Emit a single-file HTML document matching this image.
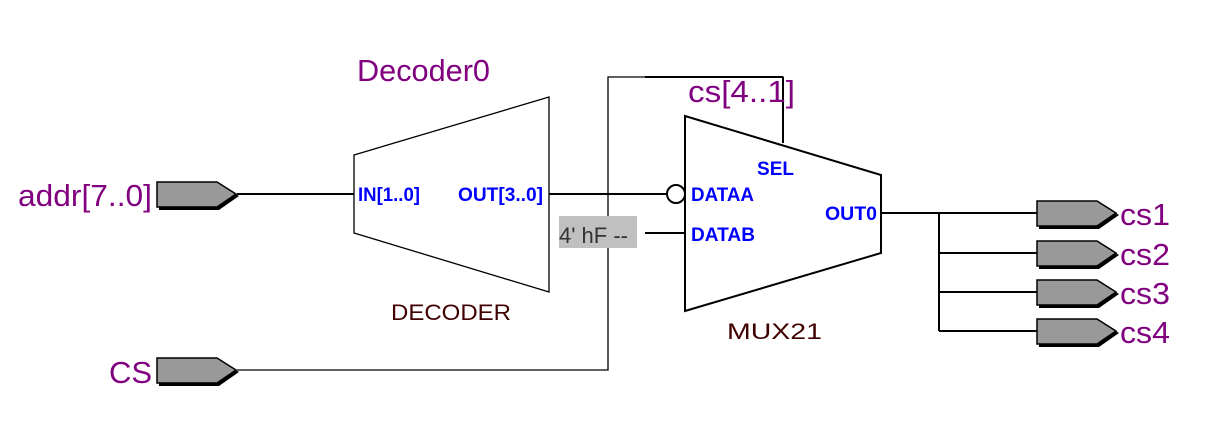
<!DOCTYPE html>
<html><head><meta charset="utf-8"><style>
html,body{margin:0;padding:0;background:#fff;}
svg{display:block;}
text{font-family:"Liberation Sans",sans-serif;}
</style></head><body>
<svg width="1213" height="428" viewBox="0 0 1213 428" xmlns="http://www.w3.org/2000/svg">
<defs>
<g id="pin">
<polygon points="2,2 62,2 82,14 62,28 2,28" fill="#000"/>
<polygon points="0,0 60,0 79,12 60,25 0,25" fill="#999" stroke="#000" stroke-width="1.5"/>
</g>
</defs>
<g stroke="#000" fill="none">
<polygon points="354,155 549,97 549,292 354,233" stroke-width="1.3"/>
<polygon points="685,116 881,175 881,253 685,311" stroke-width="2"/>
<line x1="237" y1="194" x2="354" y2="194" stroke-width="2"/>
<line x1="549" y1="194" x2="667" y2="194" stroke-width="2"/>
<circle cx="676" cy="194" r="9" stroke-width="2" fill="#fff"/>
<line x1="645" y1="233" x2="685" y2="233" stroke-width="2"/>
<polyline points="237,370 608,370 608,77 783,77 783,143" stroke-width="1.3"/>
<line x1="645" y1="77" x2="783" y2="77" stroke-width="2"/>
<line x1="783" y1="77" x2="783" y2="143" stroke-width="2"/>
<line x1="881" y1="213" x2="1038" y2="213" stroke-width="2"/>
<line x1="939" y1="213" x2="939" y2="331" stroke-width="2"/>
<line x1="939" y1="253" x2="1038" y2="253" stroke-width="2"/>
<line x1="939" y1="292" x2="1038" y2="292" stroke-width="2"/>
<line x1="939" y1="331" x2="1038" y2="331" stroke-width="2"/>
</g>
<rect x="559" y="216" width="78" height="32" fill="#c0c0c0"/>
<text x="559" y="243" font-size="22" fill="#333">4' hF --</text>
<use href="#pin" x="157" y="182"/>
<use href="#pin" x="157" y="358"/>
<use href="#pin" x="1037" y="201"/>
<use href="#pin" x="1037" y="241"/>
<use href="#pin" x="1037" y="280"/>
<use href="#pin" x="1037" y="319"/>
<g fill="#800080" font-size="31">
<text x="18" y="206" textLength="134" lengthAdjust="spacingAndGlyphs">addr[7..0]</text>
<text x="109" y="383">CS</text>
<text x="357" y="81" textLength="133" lengthAdjust="spacingAndGlyphs">Decoder0</text>
<text x="688" y="102" textLength="107" lengthAdjust="spacingAndGlyphs">cs[4..1]</text>
<text x="1120" y="225" textLength="50" lengthAdjust="spacingAndGlyphs">cs1</text>
<text x="1120" y="265" textLength="50" lengthAdjust="spacingAndGlyphs">cs2</text>
<text x="1120" y="304" textLength="50" lengthAdjust="spacingAndGlyphs">cs3</text>
<text x="1120" y="343" textLength="50" lengthAdjust="spacingAndGlyphs">cs4</text>
</g>
<g fill="#0000ff" font-size="19" font-weight="bold">
<text x="358" y="201" textLength="62" lengthAdjust="spacingAndGlyphs">IN[1..0]</text>
<text x="458" y="201" textLength="85" lengthAdjust="spacingAndGlyphs">OUT[3..0]</text>
<text x="757" y="175" textLength="37" lengthAdjust="spacingAndGlyphs">SEL</text>
<text x="691" y="201" textLength="63" lengthAdjust="spacingAndGlyphs">DATAA</text>
<text x="691" y="241" textLength="64" lengthAdjust="spacingAndGlyphs">DATAB</text>
<text x="825" y="220" textLength="52" lengthAdjust="spacingAndGlyphs">OUT0</text>
</g>
<g fill="#400000" font-size="22">
<text x="391" y="320" textLength="120" lengthAdjust="spacingAndGlyphs">DECODER</text>
<text x="727" y="339" textLength="95" lengthAdjust="spacingAndGlyphs">MUX21</text>
</g>
</svg>
</body></html>
